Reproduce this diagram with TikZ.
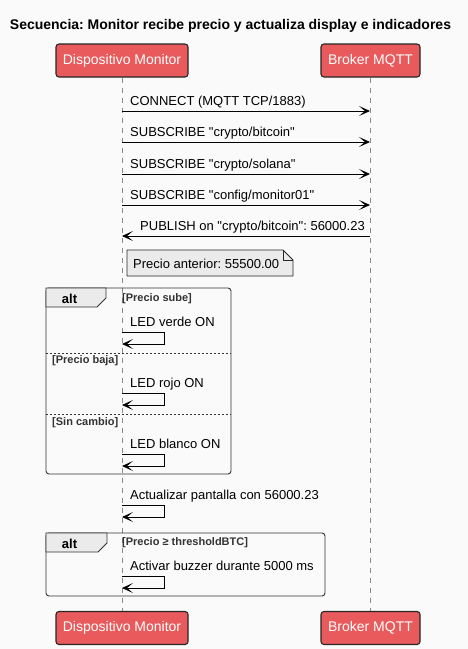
\documentclass[tikz,border=0pt]{standalone}
\usepackage{fontspec}
\setmainfont{Liberation Sans}
\usetikzlibrary{arrows.meta}
\definecolor{partred}{HTML}{E85A5B}
\definecolor{bggray}{HTML}{FAFAFA}
\definecolor{notegray}{HTML}{EBEBEB}
\definecolor{lifegray}{HTML}{8A8A8A}
\definecolor{guardgray}{HTML}{333333}
\definecolor{framegray}{HTML}{333333}
\frenchspacing

\begin{document}
\begin{tikzpicture}[x=1pt,y=-1pt]
    \tikzstyle{every node}+=[inner sep=0pt]
    \tikzstyle{part}=[draw=black!85, fill=partred, rounded corners=3pt, line width=1.1pt, minimum height=33pt, text=white, font=\fontsize{14}{16}\selectfont]
    \tikzstyle{life}=[lifegray, dash pattern=on 5pt off 5pt, line width=0.8pt]
    \tikzstyle{msg}=[black, line width=0.9pt, -{Stealth[length=11pt, width=10pt, inset=6pt]}]
    \tikzstyle{lbl}=[anchor=base west, font=\fontsize{13}{15}\selectfont]
    \tikzstyle{guard}=[anchor=west, text=guardgray, font=\bfseries\fontsize{11}{13}\selectfont]
    \tikzstyle{frame}=[draw=framegray, line width=0.9pt, rounded corners=3pt]
    \tikzstyle{tab}=[draw=framegray, fill=notegray, line width=0.9pt]
    \tikzstyle{sep}=[framegray, dash pattern=on 2pt off 2pt, line width=0.7pt]
    % page
    \fill [bggray] (0,0) rectangle (468,649);
    \useasboundingbox (0,0) rectangle (468,649);
    \node (title) at (230.5,26) {\bfseries\fontsize{14}{16}\selectfont Secuencia: Monitor recibe precio y actualiza display e indicadores};
    % participants
    \node [part, minimum width=132pt] (mon) at (122,60.5) {Dispositivo Monitor};
    \node [part, minimum width=99pt] (brk) at (370.5,60.5) {Broker MQTT};
    \node [part, minimum width=132pt] (monb) at (122,628) {Dispositivo Monitor};
    \node [part, minimum width=99pt] (brkb) at (370.5,628) {Broker MQTT};
    \draw [life] (mon.south) -- (monb.north);
    \draw [life] (brk.south) -- (brkb.north);
    % alt frames
    \draw [frame] (46,288) rectangle (231,474);
    \draw [tab] (46,288) -- (106,288) -- (106,298) -- (97,307) -- (46,307) -- cycle;
    \node [anchor=base, font=\bfseries\fontsize{13}{15}\selectfont] (alt1) at (69.5,303) {alt};
    \draw [sep] (46,353) -- (231,353);
    \draw [sep] (46,414) -- (231,414);
    \node [guard] (g1) at (122,299) {[Precio sube]};
    \node [guard] (g2) at (52,361) {[Precio baja]};
    \node [guard] (g3) at (52,423) {[Sin cambio]};
    \draw [frame] (46,533) rectangle (325,596);
    \draw [tab] (46,533) -- (107,533) -- (107,543) -- (98,552) -- (46,552) -- cycle;
    \node [anchor=base, font=\bfseries\fontsize{13}{15}\selectfont] (alt2) at (69.5,548) {alt};
    \node [guard] (g4) at (122,543) {[Precio ≥ thresholdBTC]};
    % messages
    \coordinate (m1) at (122,111);  \coordinate (b1) at (370,111);
    \coordinate (m2) at (122,142);  \coordinate (b2) at (370,142);
    \coordinate (m3) at (122,174);  \coordinate (b3) at (370,174);
    \coordinate (m4) at (122,205);  \coordinate (b4) at (370,205);
    \coordinate (m5) at (122,236);  \coordinate (b5) at (370,236);
    \draw [msg] (m1) -- (b1);
    \node [lbl] (t1) at (130,105.5) {CONNECT (MQTT TCP/1883)};
    \draw [msg] (m2) -- (b2);
    \node [lbl] (t2) at (130,136.5) {SUBSCRIBE \textquotedbl crypto/bitcoin\textquotedbl};
    \draw [msg] (m3) -- (b3);
    \node [lbl] (t3) at (130,168.5) {SUBSCRIBE \textquotedbl crypto/solana\textquotedbl};
    \draw [msg] (m4) -- (b4);
    \node [lbl] (t4) at (130,199.5) {SUBSCRIBE \textquotedbl config/monitor01\textquotedbl};
    \draw [msg] (b5) -- (m5);
    \node [lbl] (t5) at (140,230.5) {PUBLISH on \textquotedbl crypto/bitcoin\textquotedbl: 56000.23};
    % note
    \draw [draw=black!85, fill=notegray, line width=0.9pt, line join=round] (127,250) -- (283,250) -- (293,260) -- (293,276) -- (127,276) -- cycle;
    \draw [black!85, line width=0.9pt] (283,250) -- (283,260) -- (293,260);
    \node [lbl] (n1) at (133,268) {Precio anterior: 55500.00};
    % self messages
    \coordinate (s1a) at (122,332);  \coordinate (s1b) at (122,344);
    \coordinate (s2a) at (122,393);  \coordinate (s2b) at (122,405);
    \coordinate (s3a) at (122,454);  \coordinate (s3b) at (122,466);
    \coordinate (s4a) at (122,505);  \coordinate (s4b) at (122,517);
    \coordinate (s5a) at (122,576);  \coordinate (s5b) at (122,588);
    \draw [msg] (s1a) -- ++(42,0) |- (s1b);
    \node [lbl] (t6) at (130,326) {LED verde ON};
    \draw [msg] (s2a) -- ++(42,0) |- (s2b);
    \node [lbl] (t7) at (130,387) {LED rojo ON};
    \draw [msg] (s3a) -- ++(42,0) |- (s3b);
    \node [lbl] (t8) at (130,448) {LED blanco ON};
    \draw [msg] (s4a) -- ++(42,0) |- (s4b);
    \node [lbl] (t9) at (130,499) {Actualizar pantalla con 56000.23};
    \draw [msg] (s5a) -- ++(42,0) |- (s5b);
    \node [lbl] (t10) at (130,570) {Activar buzzer durante 5000 ms};
\end{tikzpicture}
\end{document}
